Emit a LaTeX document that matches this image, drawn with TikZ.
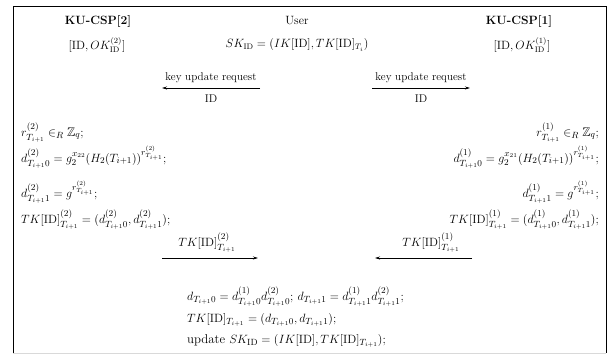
\documentclass[tikz,border=0pt]{standalone}
\usepackage{amssymb}
\usetikzlibrary{arrows.meta}
\begin{document}
\begin{tikzpicture}[x=1pt,y=-1pt,
  hdr/.style={inner sep=0pt,font=\fontsize{12}{14}\selectfont},
  lbl/.style={inner sep=0pt,font=\fontsize{11.2}{13}\selectfont},
  mth/.style={inner sep=0pt,font=\fontsize{12.5}{15}\selectfont},
  bot/.style={inner sep=0pt,font=\fontsize{12.8}{15}\selectfont},
  arr/.style={-{Stealth[length=5pt,width=3pt]},line width=0.7pt}]
\useasboundingbox (0,0) rectangle (607,354);
\draw[line width=1pt] (13,353) -- (13,6) -- (606,6) -- (606,353);
\draw[black!15,line width=0.6pt] (13,353) -- (606,353);
% headers
\node[hdr] (csp2) at (98,21) {\textbf{KU-CSP[2]}};
\node[hdr] (csp2k) at (97,45) {$[\mathrm{ID},OK_{\mathrm{ID}}^{(2)}]$};
\node[hdr] (user) at (297,21) {User};
\node[hdr] (userk) at (297,45) {$SK_{\mathrm{ID}}=(IK[\mathrm{ID}],TK[\mathrm{ID}]_{T_i})$};
\node[hdr] (csp1) at (519,21) {\textbf{KU-CSP[1]}};
\node[hdr] (csp1k) at (522,45) {$[\mathrm{ID},OK_{\mathrm{ID}}^{(1)}]$};
% request arrows
\coordinate (rqlA) at (260,88); \coordinate (rqlB) at (162,88);
\coordinate (rqrA) at (372,88); \coordinate (rqrB) at (470,88);
\draw[arr] (rqlA) -- node[lbl,above=5pt]{key update request} node[lbl,below=6pt]{ID} (rqlB);
\draw[arr] (rqrA) -- node[lbl,above=5pt]{key update request} node[lbl,below=6pt]{ID} (rqrB);
% left block
\node[mth,anchor=base west] (l1) at (21,136) {$r_{T_{i+1}}^{(2)}\in_R\mathbb{Z}_q;$};
\node[mth,anchor=base west] (l2) at (21,162) {$d_{T_{i+1}0}^{(2)}=g_2^{x_{22}}(H_2(T_{i+1}))^{r_{T_{i+1}}^{(2)}};$};
\node[mth,anchor=base west] (l3) at (21,197) {$d_{T_{i+1}1}^{(2)}=g^{r_{T_{i+1}}^{(2)}};$};
\node[mth,anchor=base west] (l4) at (21,223) {$TK[\mathrm{ID}]_{T_{i+1}}^{(2)}=(d_{T_{i+1}0}^{(2)},d_{T_{i+1}1}^{(2)});$};
% right block
\node[mth,anchor=base east] (r1) at (599,136) {$r_{T_{i+1}}^{(1)}\in_R\mathbb{Z}_q;$};
\node[mth,anchor=base east] (r2) at (599,162) {$d_{T_{i+1}0}^{(1)}=g_2^{x_{21}}(H_2(T_{i+1}))^{r_{T_{i+1}}^{(1)}};$};
\node[mth,anchor=base east] (r3) at (599,197) {$d_{T_{i+1}1}^{(1)}=g^{r_{T_{i+1}}^{(1)}};$};
\node[mth,anchor=base east] (r4) at (599,223) {$TK[\mathrm{ID}]_{T_{i+1}}^{(1)}=(d_{T_{i+1}0}^{(1)},d_{T_{i+1}1}^{(1)});$};
% reply arrows
\coordinate (tklA) at (162,258); \coordinate (tklB) at (258,258);
\coordinate (tkrA) at (472,258); \coordinate (tkrB) at (375,258);
\draw[arr] (tklA) -- (tklB);
\draw[arr] (tkrA) -- (tkrB);
\node[mth,anchor=base] (tkl) at (207,246) {$TK[\mathrm{ID}]_{T_{i+1}}^{(2)}$};
\node[mth,anchor=base] (tkr) at (431,246) {$TK[\mathrm{ID}]_{T_{i+1}}^{(1)}$};
% bottom block
\node[bot,anchor=base west] (b1) at (187,300) {$d_{T_{i+1}0}=d_{T_{i+1}0}^{(1)}d_{T_{i+1}0}^{(2)};\,d_{T_{i+1}1}=d_{T_{i+1}1}^{(1)}d_{T_{i+1}1}^{(2)};$};
\node[bot,anchor=base west] (b2) at (187,322) {$TK[\mathrm{ID}]_{T_{i+1}}=(d_{T_{i+1}0},d_{T_{i+1}1});$};
\node[bot,anchor=base west] (b3) at (187,343) {update $SK_{\mathrm{ID}}=(IK[\mathrm{ID}],TK[\mathrm{ID}]_{T_{i+1}});$};
\end{tikzpicture}
\end{document}
